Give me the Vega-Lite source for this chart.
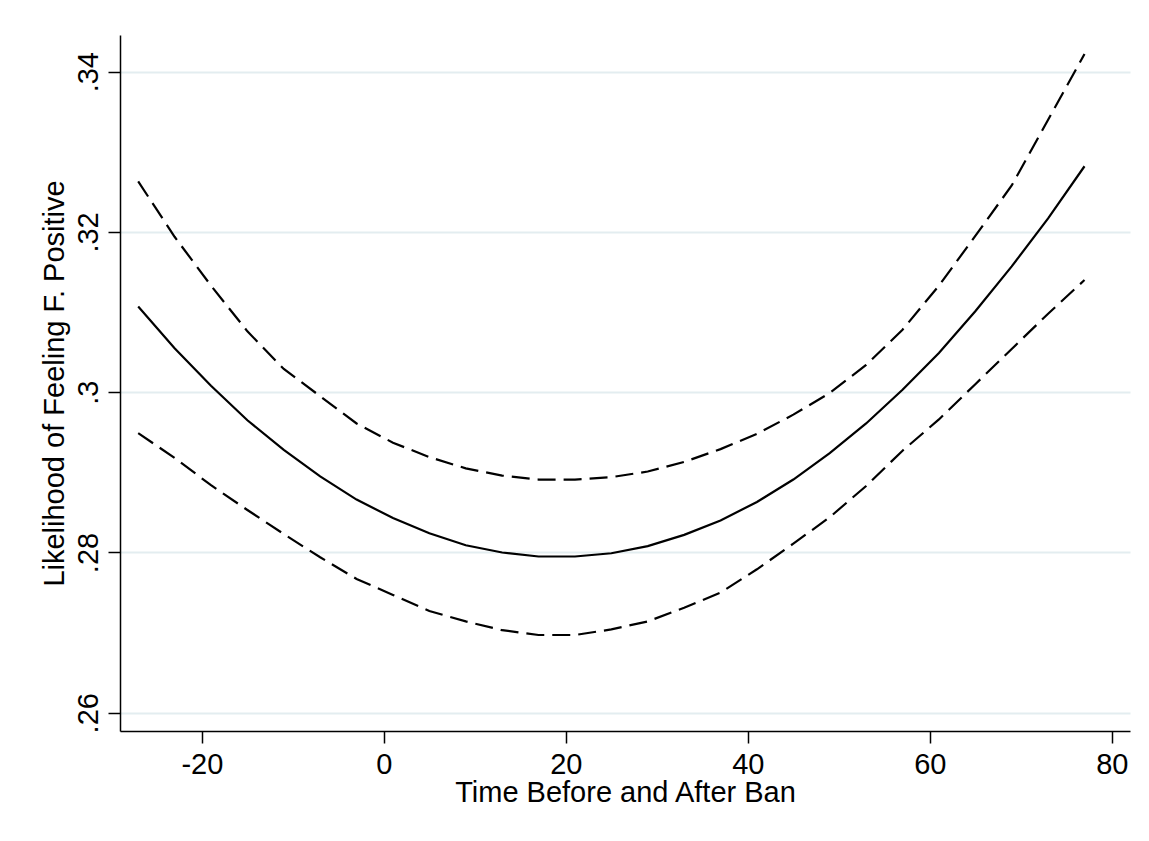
{
  "$schema": "https://vega.github.io/schema/vega-lite/v6.json",
  "width": 1010,
  "height": 696,
  "autosize": {"type": "none"},
  "padding": {"left": 120, "top": 35, "right": 19, "bottom": 110},
  "background": "white",
  "config": {"view": {"stroke": null}, "font": "Liberation Sans"},
  "data": {
    "values": [
      {"t": -27, "est": 0.3107, "upper": 0.3263, "lower": 0.2949},
      {"t": -23, "est": 0.3055, "upper": 0.3194, "lower": 0.2918},
      {"t": -19, "est": 0.3008, "upper": 0.3133, "lower": 0.2884},
      {"t": -15, "est": 0.2965, "upper": 0.3076, "lower": 0.2853},
      {"t": -11, "est": 0.2928, "upper": 0.3029, "lower": 0.2823},
      {"t": -7, "est": 0.2895, "upper": 0.2995, "lower": 0.2794},
      {"t": -3, "est": 0.2866, "upper": 0.2961, "lower": 0.2767},
      {"t": 1, "est": 0.2843, "upper": 0.2937, "lower": 0.2747},
      {"t": 5, "est": 0.2824, "upper": 0.2919, "lower": 0.2727},
      {"t": 9, "est": 0.2809, "upper": 0.2905, "lower": 0.2714},
      {"t": 13, "est": 0.2800, "upper": 0.2896, "lower": 0.2703},
      {"t": 17, "est": 0.2795, "upper": 0.2891, "lower": 0.2697},
      {"t": 21, "est": 0.2795, "upper": 0.2891, "lower": 0.2697},
      {"t": 25, "est": 0.2799, "upper": 0.2894, "lower": 0.2704},
      {"t": 29, "est": 0.2808, "upper": 0.2901, "lower": 0.2714},
      {"t": 33, "est": 0.2822, "upper": 0.2913, "lower": 0.2731},
      {"t": 37, "est": 0.2840, "upper": 0.2929, "lower": 0.2750},
      {"t": 41, "est": 0.2863, "upper": 0.2948, "lower": 0.2779},
      {"t": 45, "est": 0.2891, "upper": 0.2972, "lower": 0.2811},
      {"t": 49, "est": 0.2924, "upper": 0.2999, "lower": 0.2844},
      {"t": 53, "est": 0.2961, "upper": 0.3034, "lower": 0.2883},
      {"t": 57, "est": 0.3003, "upper": 0.3078, "lower": 0.2927},
      {"t": 61, "est": 0.3049, "upper": 0.3133, "lower": 0.2966},
      {"t": 65, "est": 0.3101, "upper": 0.3195, "lower": 0.3010},
      {"t": 69, "est": 0.3157, "upper": 0.3258, "lower": 0.3054},
      {"t": 73, "est": 0.3217, "upper": 0.3340, "lower": 0.3098},
      {"t": 77, "est": 0.3282, "upper": 0.3422, "lower": 0.3140}
    ]
  },
  "encoding": {
    "x": {
      "field": "t",
      "type": "quantitative",
      "scale": {"domain": [-29, 82], "nice": false, "zero": false},
      "axis": {
        "values": [-20, 0, 20, 40, 60, 80],
        "labelExpr": "'' + datum.value",
        "labelFontSize": 29,
        "labelColor": "black",
        "labelFlush": false,
        "labelOverlap": false,
        "labelPadding": 30,
        "labelBaseline": "alphabetic",
        "tickSize": 12,
        "tickColor": "black",
        "tickWidth": 1.5,
        "domainColor": "black",
        "domainWidth": 1.5,
        "grid": false,
        "title": "Time Before and After Ban",
        "titleFontSize": 29,
        "titleFontWeight": "normal",
        "titleColor": "black",
        "titleBaseline": "alphabetic",
        "titleY": 70
      }
    }
  },
  "layer": [
    {
      "mark": {"type": "line", "color": "black", "strokeWidth": 2.2},
      "encoding": {
        "y": {
          "field": "est",
          "type": "quantitative",
          "scale": {"domain": [0.25772, 0.34458], "nice": false, "zero": false},
          "title": "Likelihood of Feeling F. Positive",
          "axis": {
            "values": [0.26, 0.28, 0.3, 0.32, 0.34],
            "labelExpr": "replace(format(datum.value, '.2~f'), '0.', '.')",
            "labelAngle": 270,
            "labelAlign": "center",
            "labelBaseline": "alphabetic",
            "labelFontSize": 29,
            "labelColor": "black",
            "labelFlush": false,
            "labelOverlap": false,
            "labelPadding": 11,
            "tickSize": 12,
            "tickColor": "black",
            "tickWidth": 1.5,
            "domainColor": "black",
            "domainWidth": 1.5,
            "grid": true,
            "gridColor": "#e3edf0",
            "gridWidth": 1.8,
            "titleFontSize": 29,
            "titleFontWeight": "normal",
            "titleColor": "black",
            "titleAngle": 270,
            "titleBaseline": "alphabetic",
            "titleX": -57
          }
        }
      }
    },
    {
      "mark": {"type": "line", "color": "black", "strokeWidth": 2.2, "strokeDash": [18, 8]},
      "encoding": {
        "y": {
          "field": "upper",
          "type": "quantitative",
          "scale": {"domain": [0.25772, 0.34458], "nice": false, "zero": false},
          "title": "Likelihood of Feeling F. Positive"
        }
      }
    },
    {
      "mark": {"type": "line", "color": "black", "strokeWidth": 2.2, "strokeDash": [18, 8]},
      "encoding": {
        "y": {
          "field": "lower",
          "type": "quantitative",
          "scale": {"domain": [0.25772, 0.34458], "nice": false, "zero": false},
          "title": "Likelihood of Feeling F. Positive"
        }
      }
    }
  ]
}
